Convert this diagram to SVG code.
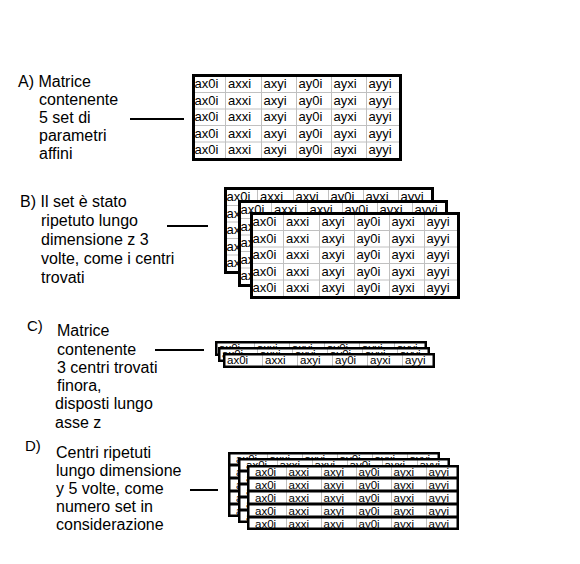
<svg xmlns="http://www.w3.org/2000/svg" width="580" height="564" viewBox="0 0 580 564">
<style>
.lbl{font-family:"Liberation Sans",Arial,sans-serif;font-size:16px;fill:#000}
.tag{font-size:15px}
.c13{font-family:"Liberation Sans",Arial,sans-serif;font-size:13px;fill:#000}
.c11{font-family:"Liberation Sans",Arial,sans-serif;font-size:11.5px;fill:#000}
.bg{fill:#fff}
.frame{fill:none;stroke:#000;stroke-width:3}
.frame2{fill:none;stroke:#000;stroke-width:2.5}
.grid{stroke:#c0c0c0;stroke-width:1;fill:none}
.sep{stroke:#000;stroke-width:3;fill:none}
.conn{stroke:#000;stroke-width:2;fill:none}
</style>
<defs>
<g id="rowA" class="c13">
<text x="2.5">ax0i</text><text x="36">axxi</text><text x="71.5">axyi</text><text x="106.5">ay0i</text><text x="141.5">ayxi</text><text x="176.5">ayyi</text>
</g>
<g id="rowC" class="c11">
<text x="4">ax0i</text><text x="42">axxi</text><text x="77">axyi</text><text x="112">ay0i</text><text x="147">ayxi</text><text x="182">ayyi</text>
</g>
<g id="rowD" class="c11">
<text x="8">ax0i</text><text x="41.5">axxi</text><text x="76.5">axyi</text><text x="111.5">ay0i</text><text x="146.5">ayxi</text><text x="181.5">ayyi</text>
</g>
<g id="tbl">
<rect class="bg" x="0" y="0" width="210" height="87"/>
<path class="grid" d="M33.5 3V84M69.5 3V84M104.5 3V84M139.5 3V84M174.5 3V84M3 18.5H207M3 35H207M3 51.5H207M3 68H207"/>
<use href="#rowA" y="14"/>
<use href="#rowA" y="30.5"/>
<use href="#rowA" y="47"/>
<use href="#rowA" y="63.5"/>
<use href="#rowA" y="80"/>
<rect class="frame" x="1.5" y="1.5" width="207" height="84"/>
</g>
<g id="stripC">
<rect class="bg" x="0" y="0" width="212" height="15"/>
<path class="grid" d="M39.5 2V13M74.5 2V13M109.5 2V13M144.5 2V13M179.5 2V13"/>
<use href="#rowC" y="11"/>
<rect class="frame2" x="1.25" y="1.25" width="209.5" height="12.5"/>
</g>
<g id="layD">
<rect class="bg" x="0" y="0" width="212" height="65"/>
<path class="grid" d="M39.5 2V63M74.5 2V63M109.5 2V63M144.5 2V63M179.5 2V63"/>
<use href="#rowD" y="11"/>
<use href="#rowD" y="24"/>
<use href="#rowD" y="37"/>
<use href="#rowD" y="50"/>
<use href="#rowD" y="63"/>
<path class="sep" d="M2 13H210M2 26H210M2 39H210M2 52H210"/>
<rect class="frame2" x="1.25" y="1.25" width="209.5" height="62.5"/>
</g>
</defs>

<g id="labelA" class="lbl">
<text x="18" y="87">A) Matrice</text>
<text x="39" y="105">contenente</text>
<text x="39" y="123">5 set di</text>
<text x="39" y="141">parametri</text>
<text x="39" y="159">affini</text>
</g>
<g id="tableA"><use href="#tbl" x="192" y="74"/></g>

<g id="labelB" class="lbl">
<text x="20" y="207">B) Il set è stato</text>
<text x="41" y="226">ripetuto lungo</text>
<text x="41" y="245">dimensione z 3</text>
<text x="41" y="264">volte, come i centri</text>
<text x="41" y="283">trovati</text>
</g>
<g id="tableB">
<use href="#tbl" x="224" y="187"/>
<use href="#tbl" x="238" y="200"/>
<use href="#tbl" x="250" y="212"/>
</g>

<g id="labelC" class="lbl">
<text class="tag" x="27" y="331">C)</text>
<text x="57" y="336">Matrice</text>
<text x="57" y="355">contenente</text>
<text x="57" y="373">3 centri trovati</text>
<text x="57" y="391">finora,</text>
<text x="55" y="409">disposti lungo</text>
<text x="55" y="428">asse z</text>
</g>
<g id="tableC">
<use href="#stripC" x="215" y="341"/>
<use href="#stripC" x="218" y="347"/>
<use href="#stripC" x="223" y="353"/>
</g>

<g id="labelD" class="lbl">
<text class="tag" x="25" y="451">D)</text>
<text x="56" y="458">Centri ripetuti</text>
<text x="56" y="476">lungo dimensione</text>
<text x="56" y="494">y 5 volte, come</text>
<text x="56" y="512">numero set in</text>
<text x="56" y="530">considerazione</text>
</g>
<g id="tableD">
<use href="#layD" x="228" y="452"/>
<use href="#layD" x="238" y="458"/>
<use href="#layD" x="247" y="465"/>
</g>

<g id="connectors">
<line class="conn" x1="130" y1="119" x2="184" y2="119"/>
<line class="conn" x1="167" y1="226" x2="208" y2="226"/>
<line class="conn" x1="155" y1="350" x2="204" y2="350"/>
<line class="conn" x1="190" y1="490" x2="218" y2="490"/>
</g>
</svg>
